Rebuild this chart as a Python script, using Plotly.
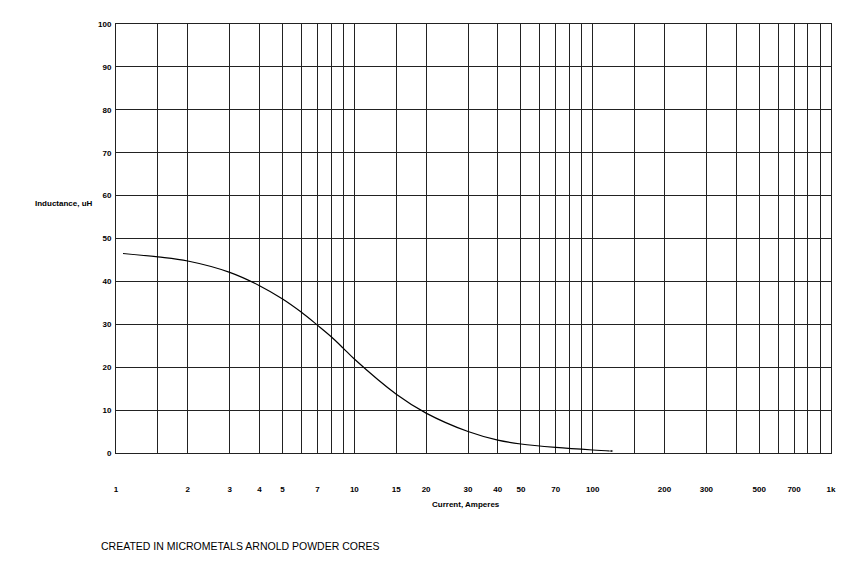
import plotly.graph_objects as go

### data
current = [1.07, 1.5, 2, 3, 4, 5, 6, 7, 8, 9, 10, 15, 20, 30, 40, 50, 70, 100, 120]
inductance = [46.5, 45.7, 44.75, 42.1, 39.0, 35.9, 32.8, 29.8, 27.1, 24.4,
              21.9, 13.7, 9.3, 5.0, 3.0, 2.1, 1.3, 0.7, 0.46]

# vertical grid positions and which ones get a label
x_grid = [1, 1.5, 2, 3, 4, 5, 6, 7, 8, 9,
          10, 15, 20, 30, 40, 50, 60, 70, 80, 90,
          100, 150, 200, 300, 400, 500, 600, 700, 800, 900, 1000]
x_labels = {1: "1", 2: "2", 3: "3", 4: "4", 5: "5", 7: "7", 10: "10",
            15: "15", 20: "20", 30: "30", 40: "40", 50: "50", 70: "70",
            100: "100", 200: "200", 300: "300", 500: "500", 700: "700",
            1000: "1k"}
x_text = [x_labels.get(v, "") for v in x_grid]

y_ticks = [0, 10, 20, 30, 40, 50, 60, 70, 80, 90, 100]

small_bold = dict(family="Liberation Sans, Arial", size=8, color="black", weight="bold")

# little square dot at the end of the curve only
end_dot = [0] * (len(current) - 1) + [3]

fig = go.Figure()
fig.add_trace(go.Scatter(
    x=current, y=inductance,
    mode="lines+markers",
    line=dict(color="black", width=1.2, shape="spline", smoothing=1.0),
    marker=dict(size=end_dot, color="black", symbol="square"),
    showlegend=False,
))

# page body adds ~8px offset, so margins are shifted to compensate
fig.update_layout(
    width=860, height=569,
    paper_bgcolor="white", plot_bgcolor="white",
    margin=dict(l=108, r=37, t=12, b=124),
    font=dict(family="Liberation Sans, Arial", color="black"),
)

fig.update_xaxes(
    type="log", range=[0, 3],
    tickmode="array", tickvals=x_grid, ticktext=x_text,
    tickfont=small_bold, ticks="", ticklabelstandoff=28,
    showgrid=True, gridcolor="#222", gridwidth=1,
    showline=True, linecolor="#222", linewidth=1, mirror=True,
    zeroline=False,
)
fig.update_yaxes(
    range=[0, 100],
    tickmode="array", tickvals=y_ticks,
    tickfont=small_bold, ticks="", ticklabelstandoff=2,
    showgrid=True, gridcolor="#222", gridwidth=1,
    showline=True, linecolor="#222", linewidth=1, mirror=True,
    zeroline=False,
)

# axis titles are plain horizontal text on the original
fig.add_annotation(text="Inductance, uH", xref="paper", yref="paper",
                   x=-0.030, y=0.582, xanchor="right", yanchor="middle",
                   showarrow=False, font=small_bold)
fig.add_annotation(text="Current, Amperes", xref="paper", yref="paper",
                   x=0.490, y=-0.121, xanchor="center", yanchor="middle",
                   showarrow=False, font=small_bold)
fig.add_annotation(text="CREATED IN MICROMETALS ARNOLD POWDER CORES",
                   xref="paper", yref="paper", x=-0.024, y=-0.217,
                   xanchor="left", yanchor="middle", showarrow=False,
                   font=dict(family="Liberation Sans, Arial", size=10.5, color="black"))

fig.write_html("out.html")
